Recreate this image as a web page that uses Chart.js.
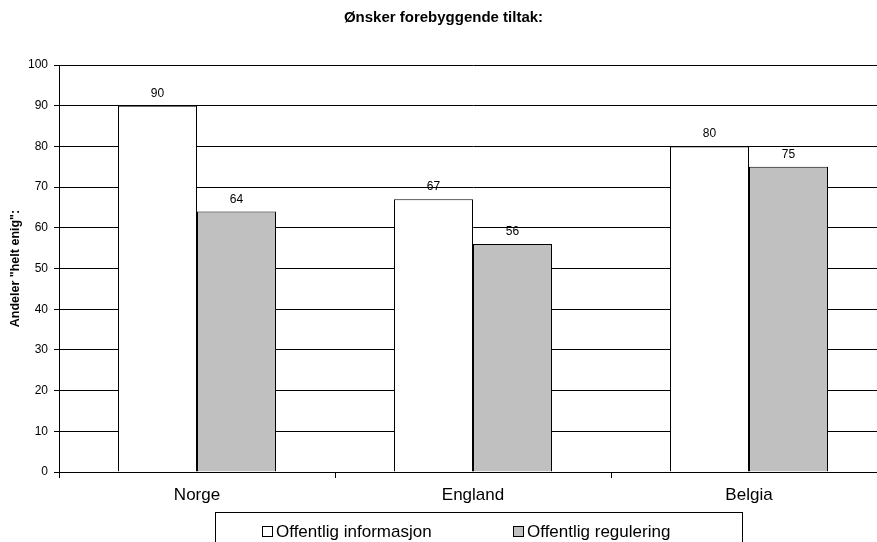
<!DOCTYPE html>
<html><head><meta charset="utf-8">
<script src="https://cdn.jsdelivr.net/npm/chart.js@4"></script>
<style>
html,body{margin:0;padding:0;background:#fff;overflow:hidden;}
#wrap{position:relative;width:877px;height:542px;overflow:hidden;}
#cbox{position:absolute;left:0;top:0;width:887px;height:542px;}
#title{position:absolute;left:0;width:887px;top:8px;text-align:center;font:bold 15px "Liberation Sans",Arial,sans-serif;color:#000;}
#legend{position:absolute;left:215px;top:512px;width:528px;height:40px;border:1px solid #000;box-sizing:border-box;font:17px "Liberation Sans",Arial,sans-serif;color:#000;}
.li{position:absolute;top:9px;white-space:nowrap;line-height:19px;}
.sw{display:inline-block;width:9px;height:9px;border:1px solid #000;margin-right:3px;vertical-align:0px;}
</style></head>
<body>
<div id="wrap">
<div id="cbox"><canvas id="c"></canvas></div>
<div id="title">Ønsker forebyggende tiltak:</div>
<div id="legend"></div>
</div>
<script>
const categories = ["Norge", "England", "Belgia"];
const seriesNames = ["Offentlig informasjon", "Offentlig regulering"];
const informasjon = [90, 67, 80];
const regulering = [64, 56, 75];
const yTicks = [0, 10, 20, 30, 40, 50, 60, 70, 80, 90, 100];
const yTitle = 'Andeler "helt enig":';
const colors = ["#ffffff", "#c0c0c0"];

const FONT = '"Liberation Sans", Arial, sans-serif';

// HTML legend
const lg = document.getElementById('legend');
const lpos = [46, 297];
seriesNames.forEach((n, i) => {
  const d = document.createElement('div');
  d.className = 'li';
  d.style.left = lpos[i] + 'px';
  d.innerHTML = '<span class="sw" style="background:' + colors[i] + '"></span>' + n;
  lg.appendChild(d);
});

const labelPlugin = {
  id: 'valueLabels',
  afterDatasetsDraw(chart) {
    const ctx = chart.ctx;
    ctx.save();
    ctx.font = '12px ' + FONT;
    ctx.fillStyle = '#000';
    ctx.textAlign = 'center';
    ctx.textBaseline = 'alphabetic';
    chart.data.datasets.forEach((ds, di) => {
      const meta = chart.getDatasetMeta(di);
      meta.data.forEach((bar, i) => {
        ctx.fillText(String(ds.data[i]), bar.x, bar.y - 9);
      });
    });
    ctx.restore();
  }
};

new Chart(document.getElementById('c'), {
  type: 'bar',
  data: {
    labels: categories,
    datasets: [
      { label: seriesNames[0], data: informasjon, backgroundColor: colors[0], borderColor: '#000', borderWidth: 1 },
      { label: seriesNames[1], data: regulering, backgroundColor: colors[1], borderColor: '#000', borderWidth: 1 }
    ]
  },
  options: {
    responsive: true,
    maintainAspectRatio: false,
    animation: false,
    devicePixelRatio: 1,
    layout: { padding: { top: 65, right: 0, left: 0, bottom: 0 } },
    datasets: { bar: { categoryPercentage: 158 / 276, barPercentage: 1.0 } },
    plugins: { legend: { display: false }, title: { display: false }, tooltip: { enabled: false } },
    scales: {
      x: {
        offset: true,
        afterFit(s) { s.height = 70; },
        grid: { display: true, drawOnChartArea: false, offset: true, color: '#000', tickLength: 6 },
        border: { display: true, color: '#000' },
        ticks: { font: { family: FONT, size: 17 }, color: '#000', padding: 7 }
      },
      y: {
        min: 0, max: 100,
        afterFit(s) { s.width = 59; },
        afterBuildTicks(s) { s.ticks = yTicks.map(v => ({ value: v })); },
        grid: { color: '#000', tickLength: 5 },
        border: { display: true, color: '#000' },
        ticks: { font: { family: FONT, size: 12 }, color: '#000', padding: 6 },
        title: { display: true, text: yTitle, font: { family: FONT, size: 12.5, weight: 'bold' }, color: '#000', padding: { top: 8, bottom: 0 } }
      }
    }
  },
  plugins: [labelPlugin]
});
</script>
</body></html>
